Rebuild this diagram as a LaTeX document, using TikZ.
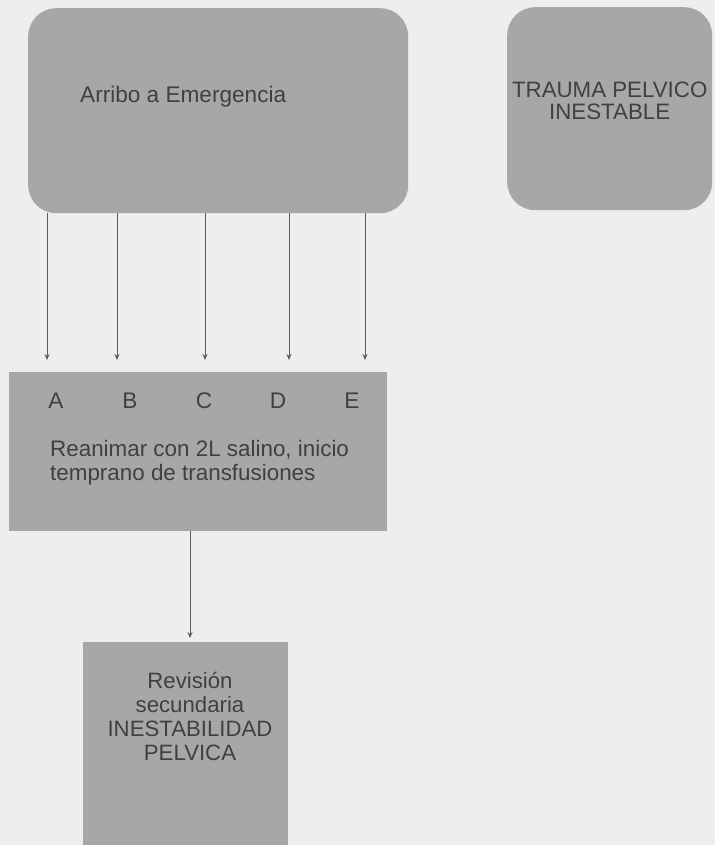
\documentclass[tikz,border=0pt]{standalone}
\usepackage{fontspec}
\setmainfont{Liberation Sans}
\usetikzlibrary{arrows.meta}
\definecolor{bg}{RGB}{238,238,240}
\definecolor{boxfill}{RGB}{168,167,168}
\definecolor{txt}{RGB}{64,64,64}
\definecolor{linec}{RGB}{90,90,90}
\tikzset{
  box/.style={fill=boxfill, draw=none, inner sep=0pt, anchor=north west},
  rbox/.style={box, rounded corners=28pt},
  lbl/.style={text=txt, inner sep=0pt, font=\fontsize{22.6}{24}\selectfont},
  arr/.style={draw=linec, line width=0.9pt, -{Stealth[length=6pt,width=5pt]}}
}
\begin{document}
\begin{tikzpicture}[x=1pt,y=-1pt]
\fill[bg] (0,0) rectangle (715,845);
\useasboundingbox (0,0) rectangle (715,845);
% boxes
\node[rbox, minimum width=380pt, minimum height=205pt] (top) at (28,8) {};
\node[rbox, minimum width=205pt, minimum height=203pt] (trauma) at (507,7) {};
\node[box, minimum width=378pt, minimum height=159pt] (mid) at (9,372) {};
\node[box, minimum width=205pt, minimum height=205pt] (bot) at (83,642) {};
% texts (base anchor = baseline of last line)
\node[lbl, anchor=base west] (arribo) at (80,103) {Arribo a Emergencia};
\node[lbl, anchor=base, align=center, font=\fontsize{22.3}{22.5}\selectfont] (traumatxt) at (trauma.center |- 0,120) {TRAUMA PELVICO\\INESTABLE};
\node[lbl, anchor=base] (la) at (56,408) {A};
\node[lbl, anchor=base] (lb) at (130,408) {B};
\node[lbl, anchor=base] (lc) at (204,408) {C};
\node[lbl, anchor=base] (ld) at (278,408) {D};
\node[lbl, anchor=base] (le) at (352,408) {E};
\node[lbl, anchor=base west, align=left, font=\fontsize{22.4}{23.2}\selectfont] (rean) at (50,480) {Reanimar con 2L salino, inicio\\temprano de transfusiones};
\node[lbl, anchor=base, align=center, font=\fontsize{22.2}{24}\selectfont] (rev) at (190,760) {Revisión\\secundaria\\INESTABILIDAD\\PELVICA};
% arrow ends
\coordinate (ea) at (47,360);
\coordinate (eb) at (117,360);
\coordinate (ec) at (205,360);
\coordinate (ed) at (289,360);
\coordinate (ee) at (365,360);
\coordinate (ebot) at (190,638);
\foreach \e in {ea,eb,ec,ed,ee}{
  \draw[arr] (top.south -| \e) -- (\e);
}
\draw[arr] (mid.south -| ebot) -- (ebot);
\end{tikzpicture}
\end{document}
